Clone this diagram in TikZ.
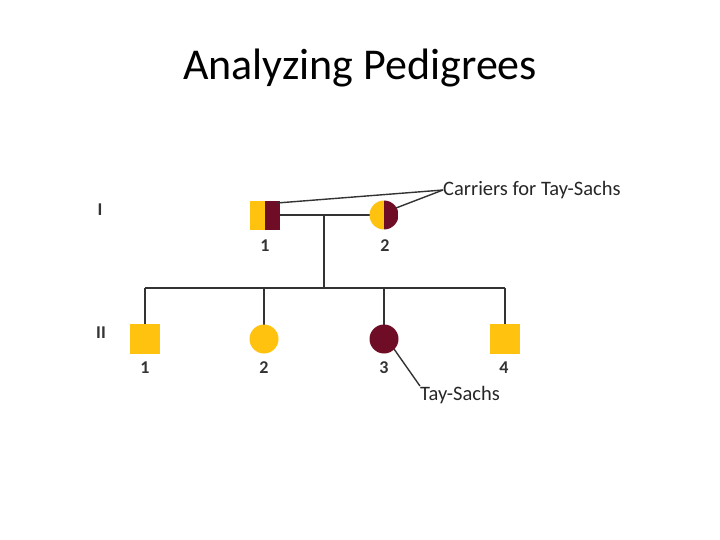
\documentclass[tikz,border=0pt]{standalone}
\usepackage{fontspec}
\setmainfont{Carlito}
\begin{document}
\begin{tikzpicture}[x=1pt,y=-1pt,
  line/.style={line width=1.8pt,color=black!80},
  lbl/.style={font=\fontsize{18}{20}\selectfont\bfseries,text=black!80},
  note/.style={font=\fontsize{20.5}{23}\selectfont,text=black!85}]
\definecolor{gold}{HTML}{FFC20E}
\definecolor{maroon}{HTML}{6E0D25}
\useasboundingbox (0,0) rectangle (720,540);
\node (title) at (360,68) {\fontsize{44}{48}\selectfont Analyzing Pedigrees};
\node[lbl] (gI) at (100,210) {I};
\node[lbl] (gII) at (101,333) {II};
% lines
\coordinate (m) at (324,215);
\coordinate (s) at (324,288);
\draw[line] (280,215) -- (370,215);
\draw[line] (m) -- (s);
\draw[line] (145,288) -- (505,288);
\foreach \x in {145,264,384,505} \draw[line] (\x,288) -- (\x,325);
% gen I
\fill[gold] (250,201) rectangle (265,230);
\fill[maroon] (265,201) rectangle (280,230);
\coordinate (a1) at (265,215);
\begin{scope}
\clip (384,215) circle (14.5);
\fill[gold] (369,200) rectangle (384,230);
\fill[maroon] (384,200) rectangle (399,230);
\end{scope}
\coordinate (a2) at (384,215);
% gen II
\fill[gold] (130,324) rectangle (160,354);
\fill[gold] (264,339) circle (14.5);
\fill[maroon] (384,339) circle (14.5);
\fill[gold] (490,324) rectangle (520,354);
\coordinate (b3) at (384,339);
% numbers
\node[lbl] at (265,246) {1};
\node[lbl] at (385,246) {2};
\node[lbl] at (145,368) {1};
\node[lbl] at (264,368) {2};
\node[lbl] at (384,368) {3};
\node[lbl] at (504,368) {4};
% notes
\node[note,anchor=west,inner sep=0] (car) at (443,190) {Carriers for Tay-Sachs};
\draw[line,line width=1.4pt] (car.west) -- (277,203);
\draw[line,line width=1.4pt] (car.west) -- (396,208);
\node[note,inner sep=0] (ts) at (460,395) {Tay-Sachs};
\draw[line,line width=1.4pt] (394,349) -- (ts.north west);
\end{tikzpicture}
\end{document}
